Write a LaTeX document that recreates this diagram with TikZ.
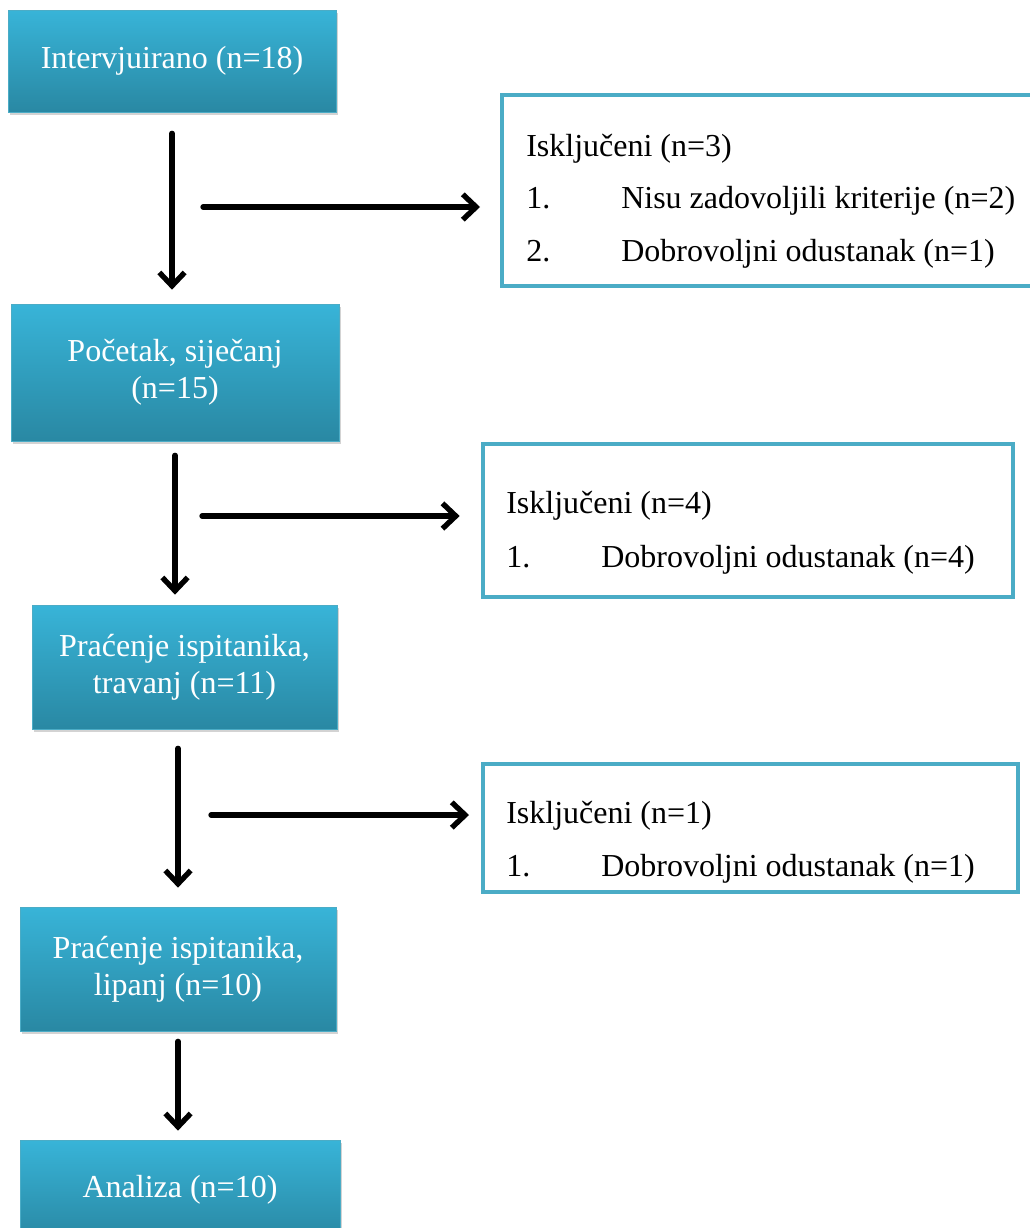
\documentclass[tikz,border=0pt]{standalone}
\usepackage{fontspec}
\setmainfont{Liberation Serif}
\usetikzlibrary{arrows.meta,shadows}

\definecolor{stagetop}{RGB}{56,180,216}
\definecolor{stagebot}{RGB}{41,136,163}
\definecolor{exclline}{RGB}{75,172,198}

\tikzset{
	stage/.style={rectangle, draw=exclline, line width=0.5pt, top color=stagetop, bottom color=stagebot,
		text=white, align=center, font=\rmfamily\fontsize{24}{27.5}\selectfont,
		drop shadow={opacity=0.35, shadow xshift=1.5pt, shadow yshift=-2.5pt}},
	excl/.style={rectangle, draw=exclline, line width=3pt, inner sep=0pt},
	item/.style={anchor=base west, inner sep=0pt, font=\rmfamily\fontsize{24}{26.5}\selectfont},
	arr/.style={-{Straight Barb[length=10pt, width=19pt]}, line width=4pt, line cap=round, line join=round}
}

\begin{document}
\begin{tikzpicture}[x=0.75pt, y=-0.75pt]
				\useasboundingbox (0,0) rectangle (1030,1228);
				% main flow
				\node[stage, minimum width=246pt, minimum height=76.5pt] (int)at(172, 61) {Intervjuirano (n=18)};
				\node[stage, minimum width=246pt, minimum height=102.75pt] (poc)at(175, 372.5) {Početak, siječanj\\(n=15)};
				\node[stage, minimum width=228.75pt, minimum height=93pt] (tra)at(184.5, 667) {Praćenje ispitanika,\\travanj (n=11)};
				\node[stage, minimum width=237pt, minimum height=93pt] (lip)at(178, 969) {Praćenje ispitanika,\\lipanj (n=10)};
				\node[stage, minimum width=240pt, minimum height=75pt] (ana)at(180, 1190) {Analiza (n=10)};
				% excluded
				\node[excl, minimum width=403.5pt, minimum height=143.25pt] (exa)at(771, 190.5) {};
				\node[item] (exa0)at(526, 156) {Isključeni (n=3)};
				\node[item] (exa1)at(526, 208) {1.};
				\node[item] (exa1t)at(621, 208) {Nisu zadovoljili kriterije (n=2)};
				\node[item] (exa2)at(526, 261) {2.};
				\node[item] (exa2t)at(621, 261) {Dobrovoljni odustanak (n=1)};
				\node[excl, minimum width=397.5pt, minimum height=114.75pt] (exb)at(748, 520.5) {};
				\node[item] (exb0)at(506, 513) {Isključeni (n=4)};
				\node[item] (exb1)at(506, 567) {1.};
				\node[item] (exb1t)at(601, 567) {Dobrovoljni odustanak (n=4)};
				\node[excl, minimum width=401.25pt, minimum height=96pt] (exc)at(750.5, 828) {};
				\node[item] (exc0)at(506, 823) {Isključeni (n=1)};
				\node[item] (exc1)at(506, 876) {1.};
				\node[item] (exc1t)at(601, 876) {Dobrovoljni odustanak (n=1)};
				% arrows
				\coordinate (h1) at (203, 207);
				\coordinate (h2) at (202, 516);
				\coordinate (h3) at (211, 815);
				\draw[arr, shorten <=15.75pt, shorten >=10.5pt] (int.south) -- (int.south |- poc.north);
				\draw[arr, shorten <=10.5pt, shorten >=7.5pt] (poc.south) -- (poc.south |- tra.north);
				\draw[arr, shorten <=14.25pt, shorten >=14.25pt] (lip.north |- tra.south) -- (lip.north);
				\draw[arr, shorten <=7.5pt, shorten >=6.75pt] (lip.south) -- (lip.south |- ana.north);
				\draw[arr, shorten >=15pt] (h1) -- (h1 -| exa.west);
				\draw[arr, shorten >=16pt] (h2) -- (h2 -| exb.west);
				\draw[arr, shorten >=9pt] (h3) -- (h3 -| exc.west);
			\end{tikzpicture}
\end{document}
